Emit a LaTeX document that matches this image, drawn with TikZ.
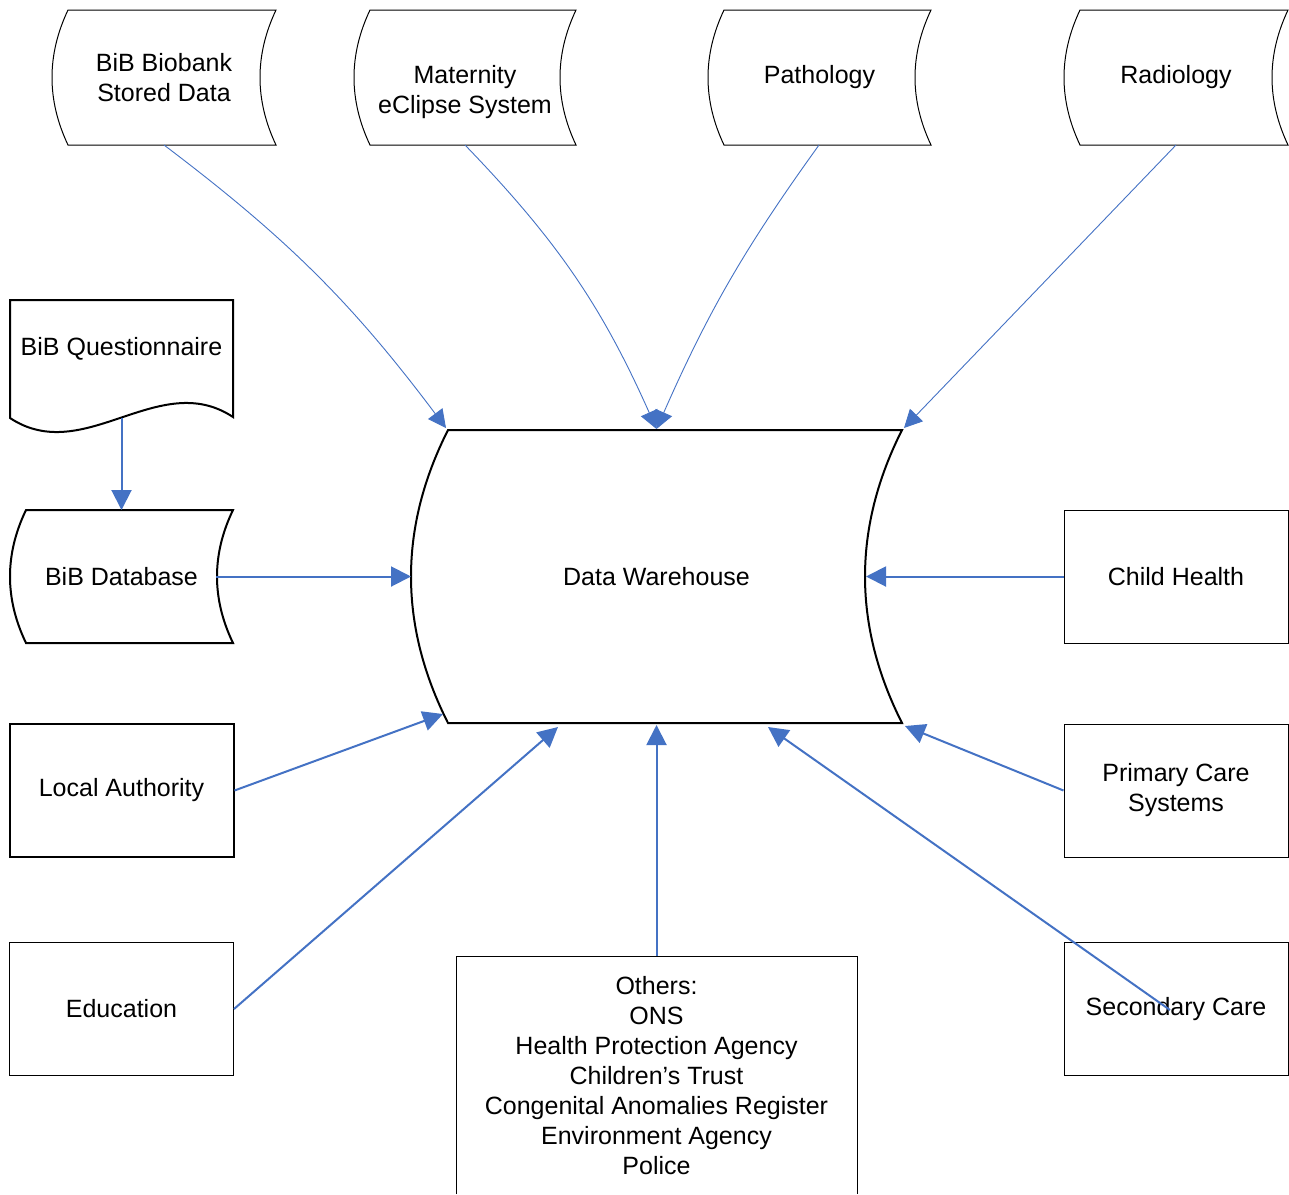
\documentclass[tikz,border=0pt]{standalone}
\usepackage{fontspec}
\setmainfont{Liberation Sans}
\usetikzlibrary{arrows.meta}
\definecolor{linkblue}{HTML}{4472C4}
\tikzstyle{txt}=[align=center, inner sep=0pt, font=\fontsize{12.5}{15}\selectfont]
\tikzstyle{box}=[draw, line width=.5pt, minimum width=112pt, minimum height=66.5pt, align=center, font=\fontsize{12.5}{15}\selectfont]
\tikzstyle{hbox}=[box, line width=1pt]
\tikzstyle{lite}=[line width=.5pt]
\tikzstyle{heavy}=[line width=1pt]
\tikzstyle{feed}=[draw=linkblue, line width=.45pt, -{Triangle[length=9pt,width=9pt]}]
\tikzstyle{link}=[draw=linkblue, line width=1pt, -{Triangle[length=10pt,width=10pt]}]
% stored data outline: centre x, centre y, width, height, bulge
\newcommand{\stored}[6][]{%
  \draw[#1] ({#2-#4/2+#6},{#3-#5/2}) -- ({#2+#4/2},{#3-#5/2})
    .. controls ({#2+#4/2-4*#6/3},{#3-#5/6}) and ({#2+#4/2-4*#6/3},{#3+#5/6}) .. ({#2+#4/2},{#3+#5/2})
    -- ({#2-#4/2+#6},{#3+#5/2})
    .. controls ({#2-#4/2-#6/3},{#3+#5/6}) and ({#2-#4/2-#6/3},{#3-#5/6}) .. cycle;}

\begin{document}
\begin{tikzpicture}[x=.5pt, y=-.5pt]
    \useasboundingbox (0,0) rectangle (1289,1194);

    \stored[lite]{164}{77.5}{224}{135}{16}
    \stored[lite]{465}{77.5}{222}{135}{16}
    \stored[lite]{819.5}{77.5}{223}{135}{16}
    \stored[lite]{1176}{77.5}{224}{135}{16}
    \stored[heavy]{121.5}{576.5}{223}{133}{16}
    \stored[heavy]{656.5}{576.5}{491}{293}{37}
    \draw[heavy] (10,418) -- (10,300) -- (233,300) -- (233,417)
      .. controls (159,368) and (84,467) .. cycle;
    \draw[lite] (456,1194) |- (857,956) -- (857,1194);

    \node[txt] (bio) at (164,77.5) {BiB Biobank\\Stored Data};
    \node[txt] (mat) at (465,92) {Maternity\\eClipse System};
    \node[txt] (pat) at (819.5,77.5) {Pathology};
    \node[txt] (rad) at (1176,77.5) {Radiology};
    \node[txt] (bq) at (121.5,349) {BiB Questionnaire};
    \node[txt] (db) at (121.5,576.5) {BiB Database};
    \node[txt] (dw) at (656.5,576.5) {Data Warehouse};
    \node[box] (ch) at (1176,576.5) {Child Health};
    \node[box] (pc) at (1176,790.5) {Primary Care\\Systems};
    \node[hbox] (la) at (121.5,790.5) {Local Authority};
    \node[box] (ed) at (121.5,1009) {Education};
    \node[box] (sc) at (1176,1009) {Secondary Care};
    \node[txt] (oth) at (656.5,1075.5) {Others:\\ONS\\Health Protection Agency\\Children's Trust\\Congenital Anomalies Register\\Environment Agency\\Police};

    \coordinate (bio-s) at (164,145);
    \coordinate (mat-s) at (465,145);
    \coordinate (pat-s) at (819,145);
    \coordinate (rad-s) at (1176,145);
    \coordinate (bq-s) at (121.5,418);
    \coordinate (db-n) at (121.5,510);
    \coordinate (db-e) at (216,576.5);
    \coordinate (oth-n) at (656.5,956);
    \coordinate (sc-in) at (1170,1010);
    \coordinate (dw-w) at (411,576.5);
    \coordinate (dw-e) at (866,576.5);
    \coordinate (dw-nw) at (446,428);
    \coordinate (dw-n) at (656.5,429);
    \coordinate (dw-ne) at (904,428);
    \coordinate (dw-sw) at (443,714);
    \coordinate (dw-s1) at (558,727);
    \coordinate (dw-s) at (656.5,725);
    \coordinate (dw-s2) at (768,727);
    \coordinate (dw-se) at (905,726);

    \draw[feed] (bio-s) to[bend left=8] (dw-nw);
    \draw[feed] (mat-s) to[bend left=10] (dw-n);
    \draw[feed] (pat-s) to[bend right=6] (dw-n);
    \draw[feed] (rad-s) -- (dw-ne);
    \foreach \from/\to in {bq-s/db-n, db-e/dw-w, ch.west/dw-e, la.east/dw-sw,
          ed.east/dw-s1, oth-n/dw-s, sc-in/dw-s2, pc.west/dw-se}
      \draw[link] (\from) -- (\to);
\end{tikzpicture}
\end{document}
